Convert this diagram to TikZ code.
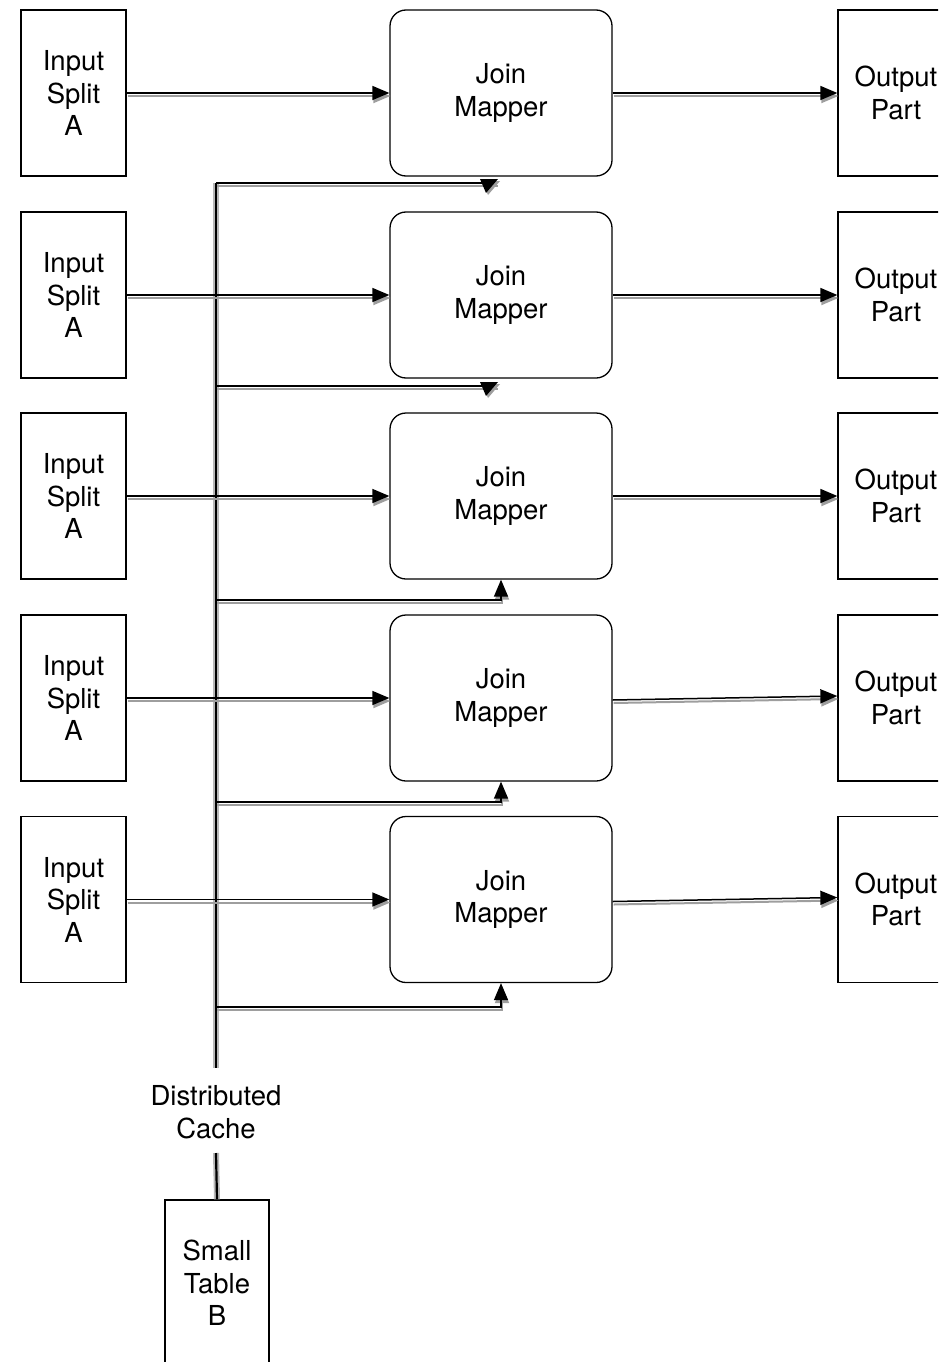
\documentclass[tikz,border=0pt]{standalone}
\usepackage{fontspec}
\setmainfont{TeX Gyre Heros}
\usetikzlibrary{arrows.meta}
\begin{document}
\begin{tikzpicture}[x=1pt,y=-1pt,
  every node/.style={font=\fontsize{27.5}{32.5}\selectfont, align=center, inner sep=0pt},
  splitbox/.style={draw, line width=1.3pt, minimum width=105pt, minimum height=166pt},
  mapperbox/.style={draw, line width=1.3pt, rounded corners=16pt, minimum width=222pt, minimum height=166pt},
  shade line/.style={preaction={draw=black!38, line width=2pt, transform canvas={shift={(1pt,-3pt)}}}},
  flow/.style={line width=1.5pt, -{Triangle[length=17pt,width=14pt]}, shade line},
  branch/.style={line width=1.5pt, shade line},
  tiphead/.style={fill=black, preaction={fill=black!38, transform canvas={shift={(2pt,-2pt)}}}},
  cacheline/.style={line width=2.2pt,
    preaction={draw=black!28, line width=6pt}}
]
\path[use as bounding box, clip] (0,0) rectangle (938,1362);

% distributed cache trunk
\coordinate (ctop) at (216,183);
\coordinate (cbot) at (216,1068);
\coordinate (dclow) at (216,1153);
\node (dc) at (216,1112) {Distributed\\Cache};
\node[splitbox, minimum width=104pt] (small) at (217,1283) {Small\\Table\\B};
\draw[cacheline] (ctop) -- (cbot);
\draw[cacheline] (dclow) -- (small.north);

% inputs, mappers and outputs, one row per split
\foreach \i/\y in {1/93, 2/295, 3/496, 4/698, 5/899.5} {
  \node[splitbox]  (in\i)  at (73.5,\y)  {Input\\Split\\A};
  \node[mapperbox] (map\i) at (501,\y)   {Join\\Mapper};
  \node[splitbox, minimum width=116pt] (out\i) at (896,\y) {Output\\Part};
  \draw[flow] (in\i) -- (map\i);
}
\draw[flow] (map1) -- (out1);
\draw[flow] (map2) -- (out2);
\draw[flow] (map3) -- (out3);
\draw[flow] ([yshift=-2pt]map4.east) -- ([yshift=2pt]out4.west);
\draw[flow] ([yshift=-2pt]map5.east) -- ([yshift=2pt]out5.west);

% branches from the cache to each mapper
\coordinate (c1) at (216,183);
\coordinate (c2) at (216,386);
\coordinate (c3) at (216,600);
\coordinate (c4) at (216,802);
\coordinate (c5) at (216,1007);
\coordinate (k1) at (497,183);
\coordinate (k2) at (497,386);
\draw[branch] (c1) -- (k1);
\draw[branch] (c2) -- (k2);
\fill[tiphead] (480,179) -- (498,179) -- (486,193) -- cycle;
\fill[tiphead] (480,382) -- (498,382) -- (486,396) -- cycle;
\draw[flow] (c3) -| (map3.south);
\draw[flow] (c4) -| (map4.south);
\draw[flow] (c5) -| (map5.south);
\end{tikzpicture}
\end{document}
